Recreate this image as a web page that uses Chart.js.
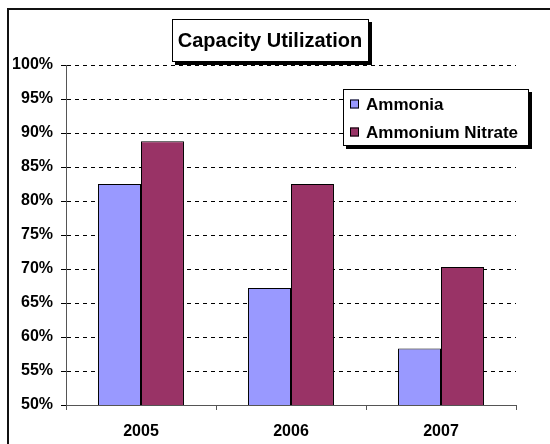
<!DOCTYPE html>
<html>
<head>
<meta charset="utf-8">
<script src="https://cdn.jsdelivr.net/npm/chart.js@4/dist/chart.umd.min.js"></script>
<style>
  body { margin: 0; background: #fff; }
  canvas { display: block; }
</style>
</head>
<body>
<canvas id="chart" width="550" height="444"></canvas>
<script>
const years = ["2005", "2006", "2007"];
const ammonia = [82.5, 67.2, 58.3];
const ammoniumNitrate = [88.8, 82.5, 70.3];
const chartTitle = "Capacity Utilization";

// frame, title box and legend box drawn like the old spreadsheet chart
const decorations = {
  id: "decorations",
  afterDraw(chart) {
    const ctx = chart.ctx;
    ctx.save();

    // outer frame (only top/left visible)
    ctx.strokeStyle = "#111";
    ctx.lineWidth = 2;
    ctx.beginPath();
    ctx.moveTo(8, 444);
    ctx.lineTo(8, 9);
    ctx.lineTo(550, 9);
    ctx.stroke();

    // title box with shadow
    shadowBox(ctx, 172, 19, 196, 42);
    ctx.fillStyle = "#000";
    ctx.font = "bold 20px Arial, 'Liberation Sans'";
    ctx.textAlign = "center";
    ctx.textBaseline = "middle";
    ctx.fillText(chartTitle, 270, 41);

    // legend box
    shadowBox(ctx, 343, 89, 185, 56);
    ctx.font = "bold 17px Arial, 'Liberation Sans'";
    ctx.textAlign = "left";
    chart.data.datasets.forEach((ds, i) => {
      const cy = 104 + i * 28;
      ctx.fillStyle = ds.backgroundColor;
      ctx.fillRect(350, cy - 4.5, 9, 9);
      ctx.strokeStyle = "#000";
      ctx.lineWidth = 1;
      ctx.strokeRect(350.5, cy - 4, 8, 8);
      ctx.fillStyle = "#000";
      ctx.fillText(ds.label, 366, cy + 1);
    });

    ctx.restore();
  }
};

function shadowBox(ctx, x, y, w, h) {
  ctx.fillStyle = "#000";
  ctx.fillRect(x + 3, y + 3, w + 1, h + 1);
  ctx.fillStyle = "#fff";
  ctx.fillRect(x, y, w, h);
  ctx.strokeStyle = "#000";
  ctx.lineWidth = 1;
  ctx.strokeRect(x + 0.5, y + 0.5, w, h);
}

const tickFont = { family: "Arial, 'Liberation Sans'", size: 16, weight: "bold" };

new Chart(document.getElementById("chart"), {
  type: "bar",
  data: {
    labels: years,
    datasets: [
      {
        label: "Ammonia",
        data: ammonia,
        backgroundColor: "#9999FF",
        borderColor: "#000",
        borderWidth: 1
      },
      {
        label: "Ammonium Nitrate",
        data: ammoniumNitrate,
        backgroundColor: "#993366",
        borderColor: "#000",
        borderWidth: 1
      }
    ]
  },
  options: {
    responsive: false,
    animation: false,
    devicePixelRatio: 1,
    layout: { padding: { left: 0, top: 65, right: 34, bottom: 0 } },
    plugins: {
      legend: { display: false },
      title: { display: false },
      tooltip: { enabled: false }
    },
    datasets: {
      bar: { barPercentage: 1, categoryPercentage: 0.573 }
    },
    scales: {
      x: {
        grid: {
          drawOnChartArea: false,
          tickLength: 5,
          color: "#555"
        },
        border: { color: "#555", width: 1 },
        ticks: { font: tickFont, color: "#000", padding: 12 },
        afterFit: s => { s.height = 39; }
      },
      y: {
        min: 50,
        max: 100,
        ticks: {
          stepSize: 5,
          font: tickFont,
          color: "#000",
          padding: 8,
          callback: v => v + "%"
        },
        grid: {
          color: "#000",
          tickLength: 5,
          tickBorderDash: []
        },
        border: { color: "#555", width: 1, dash: [4, 4] },
        afterFit: s => { s.width = 66; }
      }
    }
  },
  plugins: [decorations]
});
</script>
</body>
</html>
